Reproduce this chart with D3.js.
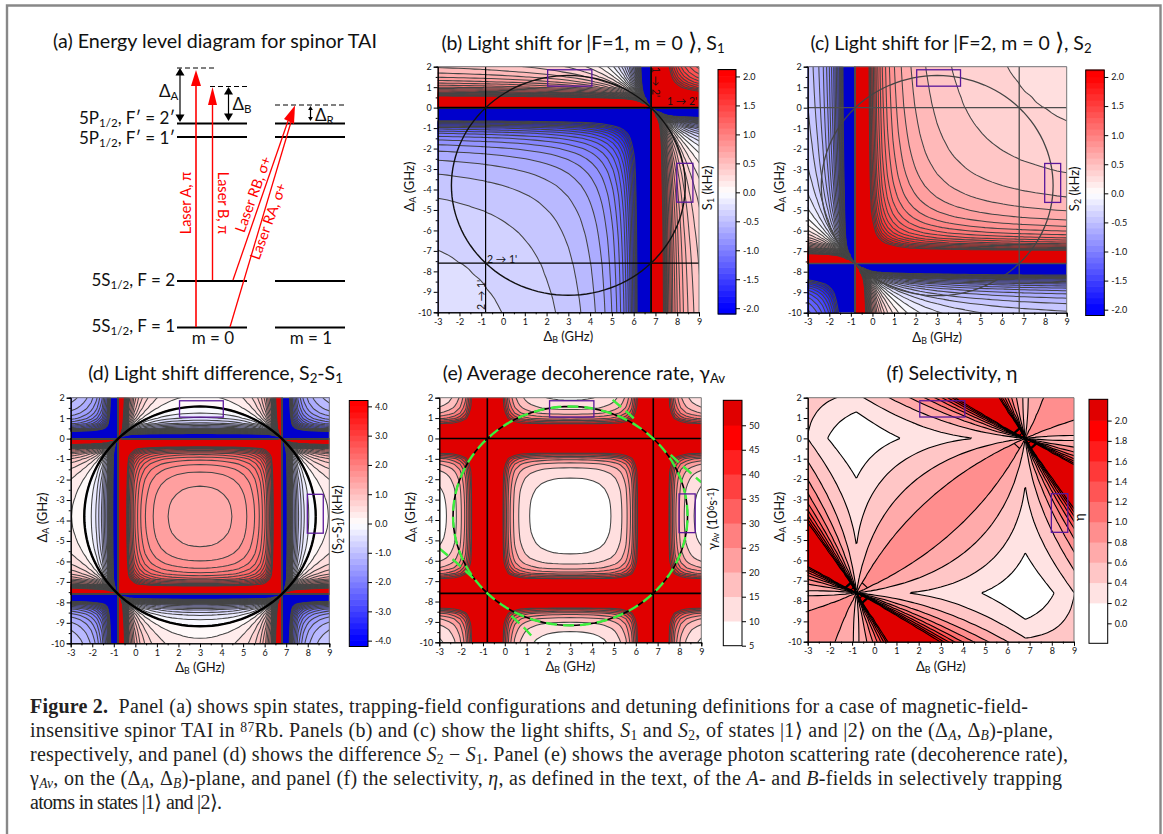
<!DOCTYPE html>
<html><head><meta charset="utf-8">
<script src="https://cdn.jsdelivr.net/npm/d3@7"></script>
<style>
html,body{margin:0;padding:0;background:#fff}
svg{display:block}
text{font-family:Lato,"Noto Sans",sans-serif;fill:#111}
.tick text{font-size:9px;font-family:Lato,sans-serif}
.cap{font-family:"Liberation Serif",serif;font-size:20px;fill:#222}
</style></head><body>
<svg id="s" width="1163" height="834"></svg>
<script>
// ---- Values ----
// Detuning knots along Delta_A (GHz). Delta_B uses the same knots shifted by the hyperfine splitting.
const hyperfine = 6.8;
const knots = [-10.1,-9.85,-9.6,-9.35,-9.1,-8.85,-8.6,-8.35,-8.1,-7.85,-7.75,-7.7,-7.65,-7.62,-7.58,-7.55,-7.5,-7.45,-7.35,-7.1,-6.85,-6.6,-6.35,-6.1,-5.85,-5.6,-5.35,-5.1,-4.85,-4.6,-4.35,-4.1,-3.8,-3.5,-3.25,-3,-2.75,-2.5,-2.25,-2,-1.75,-1.5,-1.25,-1,-0.75,-0.5,-0.25,-0.15,-0.1,-0.05,-0.02,0.02,0.05,0.1,0.15,0.25,0.5,0.75,1,1.25,1.5,1.75,2,2.25,2.5];
// State |1> shift contributed by one laser at each knot (kHz)
const shift1 = [-0.121,-0.124,-0.127,-0.130,-0.134,-0.138,-0.142,-0.146,-0.151,-0.155,-0.157,-0.158,-0.159,-0.160,-0.161,-0.162,-0.163,-0.164,-0.166,-0.172,-0.178,-0.185,-0.192,-0.200,-0.209,-0.218,-0.228,-0.239,-0.252,-0.265,-0.280,-0.298,-0.321,-0.349,-0.375,-0.407,-0.444,-0.488,-0.542,-0.61,-0.697,-0.813,-0.976,-1.22,-1.627,-2.44,-4.88,-8.13,-12.2,-24.4,-61,61,24.4,12.2,8.13,4.88,2.44,1.627,1.22,0.976,0.813,0.697,0.61,0.542,0.488];
// State |2> shift contributed by one laser at each knot (kHz)
const shift2 = [-0.488,-0.542,-0.61,-0.697,-0.813,-0.976,-1.22,-1.627,-2.44,-4.88,-8.13,-12.2,-24.4,-61,61,24.4,12.2,8.13,4.88,2.44,1.627,1.22,0.976,0.813,0.697,0.61,0.542,0.488,0.444,0.407,0.375,0.349,0.321,0.298,0.28,0.265,0.252,0.239,0.228,0.218,0.209,0.2,0.192,0.185,0.178,0.172,0.166,0.164,0.163,0.162,0.161,0.16,0.159,0.158,0.157,0.155,0.151,0.146,0.142,0.138,0.134,0.13,0.127,0.124,0.121];
// Scattering rate contributed by one laser at each knot (10^6 /s)
const rate = [3.87,4.74,5.95,7.70,10.41,14.88,23.1,40.9,91.5,365,1014,2280,9120,57000,57000,9120,2280,1014,365,91.6,41.0,23.3,15.16,10.75,8.11,6.43,5.30,4.52,3.98,3.61,3.36,3.22,3.16,3.22,3.36,3.61,3.98,4.52,5.30,6.43,8.11,10.75,15.16,23.3,41.0,91.6,365,1014,2280,9120,57000,57000,9120,2280,1014,365,91.5,40.9,23.1,14.88,10.41,7.70,5.95,4.74,3.87];
const ticksB = [-3,-2,-1,0,1,2,3,4,5,6,7,8,9];
const ticksA = [-10,-9,-8,-7,-6,-5,-4,-3,-2,-1,0,1,2];
const transitionsA = [0,-7.6];
const transitionsB = [6.8,-0.8];
const circle = {b:3, a:-3.8, r:5.37};
const boxes = [{b0:2.05,b1:4.08,a0:1.05,a1:1.85},{b0:7.98,b1:8.72,a0:-4.62,a1:-2.72}];
const greenBranches = [[[4.94,1.89],[5.6,1.3],[6.07,0.82]],[[7.6,-0.8],[8.2,-1.4],[9,-2.15]],[[-3,-5.4],[-2.2,-6.1],[-1.4,-6.9]],[[0.3,-8.7],[0.9,-9.3],[1.4,-9.9]]];
const levels012 = d3.range(-21,22).map(k=>k/10);   // S1, S2 contour levels
const levelsDiff = d3.range(-21,22).map(k=>k/5);   // S2-S1 contour levels
const levelsRate = d3.range(10,51,5);              // gamma contour levels
const levelsEta = d3.range(1,11).map(k=>k/5);      // eta contour levels
const ticksShift = [-2,-1.5,-1,-0.5,0,0.5,1,1.5,2];
const ticksDiff = [-4,-3,-2,-1,0,1,2,3,4];
const ticksRate = [5,10,15,20,25,30,35,40,45,50];
const ticksEta = [0,0.2,0.4,0.6,0.8,1,1.2,1.4,1.6,1.8,2];
// ---------------------------------------

const svg = d3.select('#s');
const defs = svg.append('defs');
const DARKRED='#e00000', DARKBLUE='#0000cc';
const n = knots.length;
const idxA = d3.scaleLinear().domain(d3.range(n)).range(knots);
const idxB = d3.scaleLinear().domain(d3.range(n)).range(knots.map(k=>k+hyperfine));

// mini markup: _{sub} ~{italic sub} ^{sup} *italic* #bold# %{large bracket}
function rich(sel, str){
  const parts = str.split(/(_\{[^}]*\}|~\{[^}]*\}|\^\{[^}]*\}|%\{[^}]*\}|\*[^*]+\*|#[^#]+#)/).filter(s=>s!=='');
  parts.forEach(p=>{
    const ts = sel.append('tspan');
    if(/^[_~]\{/.test(p)){ts.text(p.slice(2,-1)).attr('baseline-shift','-22%').attr('font-size','68%'); if(p[0]=='~')ts.attr('font-style','italic');}
    else if(p[0]=='^'&&p[1]=='{'){ts.text(p.slice(2,-1)).attr('baseline-shift','35%').attr('font-size','68%');}
    else if(p[0]=='%'&&p[1]=='{'){ts.text(p.slice(2,-1)).attr('font-size','125%').style('font-family','"DejaVu Sans"').style('font-weight','200');}
    else if(p[0]=='*'){ts.text(p.slice(1,-1)).attr('font-style','italic');}
    else if(p[0]=='#'){ts.text(p.slice(1,-1)).attr('font-weight','bold');}
    else ts.text(p);
  });
  return sel;
}
function label(x,y,str,size,opt={}){
  const t = svg.append('text').attr('x',x).attr('y',y).attr('font-size',size)
    .attr('text-anchor',opt.anchor||'middle').style('white-space','pre');
  if(opt.rot!==undefined) t.attr('transform',`rotate(${opt.rot} ${x} ${y})`);
  if(opt.fill) t.style('fill',opt.fill);
  return rich(t,str);
}
function minorOf(ticks){return ticks.slice(0,-1).map(v=>v+0.5);}

function ramp(maxV){
  return v=>{
    const u=Math.min(1,Math.abs(v)/maxV);
    return v>=0?d3.interpolateRgb('#ffffff','#ff0000')(u):d3.interpolateRgb('#ffffff','#0000ff')(u);
  };
}
function symmetricColor(levels,maxV){
  const r=ramp(maxV), top=levels.length-1, hw=(levels[1]-levels[0])/2;
  return k=>{ // k: band index, 0 below first level ... levels.length above last level
    if(k<=0) return DARKBLUE; if(k>top) return DARKRED;
    return r(levels[k-1]+hw);
  };
}
function stepColor(levels){
  const steps=levels.length-1;
  return k=>{
    if(k>steps) return DARKRED;
    return d3.interpolateRgb('#ffffff','#ff0000')(k/steps);
  };
}

function panel(o){
  const x=d3.scaleLinear().domain([-3,9]).range([o.x0,o.x1]);
  const y=d3.scaleLinear().domain([-10,2]).range([o.y1,o.y0]);
  const cid='clip'+o.id;
  defs.append('clipPath').attr('id',cid).append('rect').attr('x',o.x0).attr('y',o.y0).attr('width',o.x1-o.x0).attr('height',o.y1-o.y0);
  const g=svg.append('g');
  const plot=g.append('g').attr('clip-path',`url(#${cid})`);
  const values=new Float64Array(n*n);
  for(let j=0;j<n;j++)for(let i=0;i<n;i++)values[i+n*j]=o.field(i,j);
  const cs=d3.contours().size([n,n]).thresholds(o.levels)(values);
  const path=d3.geoPath(d3.geoTransform({point(cx,cy){this.stream.point(x(idxB(cx-0.5)),y(idxA(cy-0.5)));}}));
  plot.append('rect').attr('x',o.x0).attr('y',o.y0).attr('width',o.x1-o.x0).attr('height',o.y1-o.y0).attr('fill',o.color(0));
  plot.append('g').selectAll('path').data(cs).join('path').attr('d',path).attr('fill',(d,k)=>o.color(k+1)).attr('stroke','none');
  plot.append('g').selectAll('path').data(cs).join('path').attr('d',path).attr('fill','none').attr('stroke',o.lineColor).attr('stroke-width',o.lineWidth);
  if(o.lines){
    transitionsA.forEach((v,k)=>plot.append('line').attr('x1',o.x0).attr('x2',o.x1).attr('y1',y(v)).attr('y2',y(v)).attr('stroke',o.lines.color).attr('stroke-width',o.lines.w[k]));
    transitionsB.forEach((v,k)=>plot.append('line').attr('y1',o.y0).attr('y2',o.y1).attr('x1',x(v)).attr('x2',x(v)).attr('stroke',o.lines.color).attr('stroke-width',o.lines.w[k]));
  }
  if(o.circle){
    const ring=d3.range(0,361,3).map(a=>[circle.b+circle.r*Math.cos(a*Math.PI/180),circle.a+circle.r*Math.sin(a*Math.PI/180)]);
    const ln=d3.line().x(d=>x(d[0])).y(d=>y(d[1]));
    plot.append('path').attr('d',ln(ring)).attr('fill','none').attr('stroke',o.circle.color).attr('stroke-width',o.circle.w);
    if(o.green){
      plot.append('path').attr('d',ln(ring)).attr('fill','none').attr('stroke','#3dee3d').attr('stroke-width',2.4).attr('stroke-dasharray','11 6');
      greenBranches.forEach(b=>plot.append('path').attr('d',ln(b)).attr('fill','none').attr('stroke','#3dee3d').attr('stroke-width',2.4).attr('stroke-dasharray','11 6'));
    }
  }
  boxes.forEach(b=>g.append('rect').attr('x',x(b.b0)).attr('y',y(b.a1)).attr('width',x(b.b1)-x(b.b0)).attr('height',y(b.a0)-y(b.a1)).attr('fill','none').attr('stroke','#5a189a').attr('stroke-width',1.3));
  // frame + axes
  g.append('path').attr('d',`M${o.x0},${o.y0}H${o.x1}V${o.y1}`).attr('fill','none').attr('stroke','#777').attr('stroke-width',1);
  const fmt=d=>String(d);
  g.append('g').attr('transform',`translate(0,${o.y1})`).call(d3.axisBottom(x).tickValues(ticksB).tickSize(4).tickPadding(2).tickFormat(fmt));
  g.append('g').attr('transform',`translate(0,${o.y1})`).call(d3.axisBottom(x).tickValues(minorOf(ticksB)).tickSize(2).tickFormat(''));
  g.append('g').attr('transform',`translate(${o.x0},0)`).call(d3.axisLeft(y).tickValues(ticksA).tickSize(4).tickPadding(2).tickFormat(fmt));
  g.append('g').attr('transform',`translate(${o.x0},0)`).call(d3.axisLeft(y).tickValues(minorOf(ticksA)).tickSize(2).tickFormat(''));
  label((o.x0+o.x1)/2,o.y1+29,'Δ_{B} (GHz)',13);
  label(o.x0-24,(o.y0+o.y1)/2-3,'Δ_{A} (GHz)',13,{rot:-90});
  // title
  label(o.titleX,o.titleY,o.title,19.5);
  // colour legend
  const l=o.legend;
  const ls=d3.scaleLinear().domain(l.domain).range([l.y1,l.y0]);
  const lg=g.append('g');
  const allEdges=[l.domain[0],...o.levels,l.domain[1]];
  lg.selectAll('rect').data(d3.range(allEdges.length-1)).join('rect')
    .attr('x',l.x0).attr('width',l.x1-l.x0)
    .attr('y',k=>ls(Math.min(l.domain[1],allEdges[k+1]))-0.3)
    .attr('height',k=>Math.max(0,ls(Math.max(l.domain[0],allEdges[k]))-ls(Math.min(l.domain[1],allEdges[k+1])))+0.6)
    .attr('fill',k=>o.color(k));
  lg.append('rect').attr('x',l.x0).attr('y',l.y0).attr('width',l.x1-l.x0).attr('height',l.y1-l.y0).attr('fill','none').attr('stroke','#000').attr('stroke-width',1);
  lg.append('g').attr('transform',`translate(${l.x1},0)`).call(d3.axisRight(ls).tickValues(l.ticks).tickSize(4).tickPadding(3).tickFormat(l.fmt)).select('.domain').remove();
  label(l.labelX,(l.y0+l.y1)/2-l.labelDy,l.label,13,{rot:-90});
}

const S1=(i,j)=>shift1[i]+shift1[j];
const S2=(i,j)=>shift2[i]+shift2[j];
const f1=d=>d.toFixed(1);
const LINE='#444';

panel({id:'b',x0:437.7,x1:699,y0:66.7,y1:312.3,levels:levels012,color:symmetricColor(levels012,2),
  field:(i,j)=>S1(i,j),lineColor:LINE,lineWidth:1.05,lines:{color:'#000',w:[1.6,1.2]},circle:{color:'#111',w:1.4},
  title:'(b) Light shift for |F=1, m = 0 %{⟩}, S_{1}',titleX:583,titleY:50,
  legend:{x0:718,x1:736,y0:69.5,y1:314,domain:[-2.1,2.12],ticks:ticksShift,fmt:f1,label:'S_{1} (kHz)',labelX:712,labelDy:4}});
panel({id:'c',x0:807.7,x1:1066.7,y0:66.7,y1:312.7,levels:levels012,color:symmetricColor(levels012,2),
  field:(i,j)=>S2(i,j),lineColor:LINE,lineWidth:1.05,lines:{color:'#4d4d4d',w:[1.3,1.3]},circle:{color:'#444',w:1.3},
  title:'(c) Light shift for |F=2, m = 0 %{⟩}, S_{2}',titleX:951,titleY:50,
  legend:{x0:1085.7,x1:1104.3,y0:70,y1:315.5,domain:[-2.1,2.12],ticks:ticksShift,fmt:f1,label:'S_{2} (kHz)',labelX:1079,labelDy:4}});
panel({id:'d',x0:70.7,x1:329.3,y0:397.7,y1:643.3,levels:levelsDiff,color:symmetricColor(levelsDiff,4),
  field:(i,j)=>S2(i,j)-S1(i,j),lineColor:LINE,lineWidth:1.05,circle:{color:'#000',w:2.4},
  title:'(d) Light shift difference, S_{2}-S_{1}',titleX:215.5,titleY:380,
  legend:{x0:349.3,x1:368,y0:400.5,y1:646.5,domain:[-4.2,4.2],ticks:ticksDiff,fmt:f1,label:'(S_{2}-S_{1}) (kHz)',labelX:342,labelDy:4}});
panel({id:'e',x0:439.3,x1:701.3,y0:397.7,y1:642.3,levels:levelsRate,color:stepColor(levelsRate),
  field:(i,j)=>rate[i]+rate[j],lineColor:LINE,lineWidth:1.05,lines:{color:'#000',w:[1.6,1.6]},circle:{color:'#000',w:1.6},green:true,
  title:'(e) Average decoherence rate, γ_{Av}',titleX:584,titleY:380,
  legend:{x0:723.3,x1:742,y0:400.3,y1:645.7,domain:[5,55.1],ticks:ticksRate,fmt:d=>String(d),label:'γ_{Av} (10^{6}s^{-1})',labelX:717,labelDy:4}});
// Selectivity: the smaller of the two possible laser-to-state assignments, each summing
// the share of a state's shift that comes from the laser meant for the other state.
panel({id:'f',x0:807.7,x1:1074,y0:397.7,y1:641.7,levels:levelsEta,color:stepColor(levelsEta),
  field:(i,j)=>{
    const a=S1(i,j), b=S2(i,j);
    const one=(u,s)=>Math.abs(s)<1e-6?6:Math.abs(u/s);
    const first=one(shift1[i],a)+one(shift2[j],b);
    const second=one(shift1[j],a)+one(shift2[i],b);
    return Math.min(6,0.97*Math.min(first,second));
  },lineColor:'#000',lineWidth:1.1,
  title:'(f) Selectivity, η',titleX:952,titleY:380,
  legend:{x0:1089,x1:1107.7,y0:399.3,y1:643.3,domain:[-0.197,2.21],ticks:ticksEta,fmt:f1,label:'η',labelX:1084,labelDy:4}});

// small transition labels
label(487,263,'2 → 1\'',10.5,{anchor:'start'});
label(485,310,'2 → 1\'',10.5,{anchor:'start',rot:-90});
label(667,105,'1 → 2\'',10.5,{anchor:'start'});
label(652,67,'1 → 2\'',10.5,{anchor:'start',rot:90});

// ---- panel (a): energy level diagram ----
const levelRows=[{y:123.5,t:'5P_{1/2}, F′ = 2′',ty:124},{y:137,t:'5P_{1/2}, F′ = 1′',ty:144},{y:281,t:'5S_{1/2}, F = 2',ty:286},{y:327.5,t:'5S_{1/2}, F = 1',ty:332}];
const columns=[[177,247],[275,345]];
const pa=svg.append('g');
levelRows.forEach(r=>{
  columns.forEach(c=>pa.append('line').attr('x1',c[0]).attr('x2',c[1]).attr('y1',r.y).attr('y2',r.y).attr('stroke','#000').attr('stroke-width',2));
  label(175,r.ty,r.t,17,{anchor:'end'});
});
[[177,215,68],[210,247,86.5],[275,345,105]].forEach(d=>pa.append('line').attr('x1',d[0]).attr('x2',d[1]).attr('y1',d[2]).attr('y2',d[2]).attr('stroke','#000').attr('stroke-width',1).attr('stroke-dasharray','5 3'));
const RED='#ff0000';
function redLine(x1,y1,x2,y2,w){pa.append('line').attr('x1',x1).attr('y1',y1).attr('x2',x2).attr('y2',y2).attr('stroke',RED).attr('stroke-width',w);}
redLine(196,327,196,85,1.6);
pa.append('path').attr('d','M196,70L191,86H201Z').attr('fill',RED);
redLine(212.5,280,212.5,104,1.4);
pa.append('path').attr('d','M212.5,87L208,105H217Z').attr('fill',RED);
redLine(233,280,288,121,1.3);
redLine(230,327,291,122,1.3);
pa.append('path').attr('d','M295,105.5L284,119L294,124Z').attr('fill',RED);
function dbl(x,y1,y2,h){
  pa.append('line').attr('x1',x).attr('x2',x).attr('y1',y1+2).attr('y2',y2-2).attr('stroke','#000').attr('stroke-width',1.2);
  pa.append('path').attr('d',`M${x},${y1}l-${h*0.6},${h}h${h*1.2}Z`).attr('fill','#000');
  pa.append('path').attr('d',`M${x},${y2}l-${h*0.6},-${h}h${h*1.2}Z`).attr('fill','#000');
}
dbl(180,68,122,7.5); dbl(228.5,87,121,7.5); dbl(310.5,106,121,4);
label(159,97,'Δ_{A}',17,{anchor:'start'});
label(232.5,110,'Δ_{B}',17,{anchor:'start'});
label(315,121,'Δ_{R}',17,{anchor:'start'});
label(213,344,'m = 0',17);
label(311,344,'m = 1',17);
label(215,48,'(a) Energy level diagram for spinor TAI',19.7);
label(191,203,'Laser A, π',14.5,{rot:-90,fill:RED});
label(218,203,'Laser B, π',14.5,{rot:90,fill:RED});
label(258,196,'Laser RB, σ+',14.5,{rot:-70,fill:RED});
label(273,223,'Laser RA, σ+',14.5,{rot:-70,fill:RED});

// ---- caption and page frame ----
const capLines=[
 {y:713,w:998,t:'#Figure 2.#  Panel (a) shows spin states, trapping-field configurations and detuning definitions for a case of magnetic-field-'},
 {y:737,w:1023,t:'insensitive spinor TAI in ^{87}Rb. Panels (b) and (c) show the light shifts, *S*_{1} and *S*_{2}, of states |1⟩ and |2⟩ on the (Δ~{A}, Δ~{B})-plane,'},
 {y:761,w:1038,t:'respectively, and panel (d) shows the difference *S*_{2} − *S*_{1}. Panel (e) shows the average photon scattering rate (decoherence rate),'},
 {y:785,w:1032,t:'γ~{Av}, on the (Δ~{A}, Δ~{B})-plane, and panel (f) the selectivity, *η*, as defined in the text, of the *A*- and *B*-fields in selectively trapping'},
 {y:809,w:192,t:'atoms in states |1⟩ and |2⟩.'}
];
capLines.forEach(l=>{
  const t=svg.append('text').attr('class','cap').attr('x',30).attr('y',l.y).attr('textLength',l.w).attr('lengthAdjust','spacing').style('white-space','pre');
  rich(t,l.t);
});
svg.append('path').attr('d','M7,834V5.5H1160.5V834').attr('fill','none').attr('stroke','#888').attr('stroke-width',2.4);
</script>
</body></html>
